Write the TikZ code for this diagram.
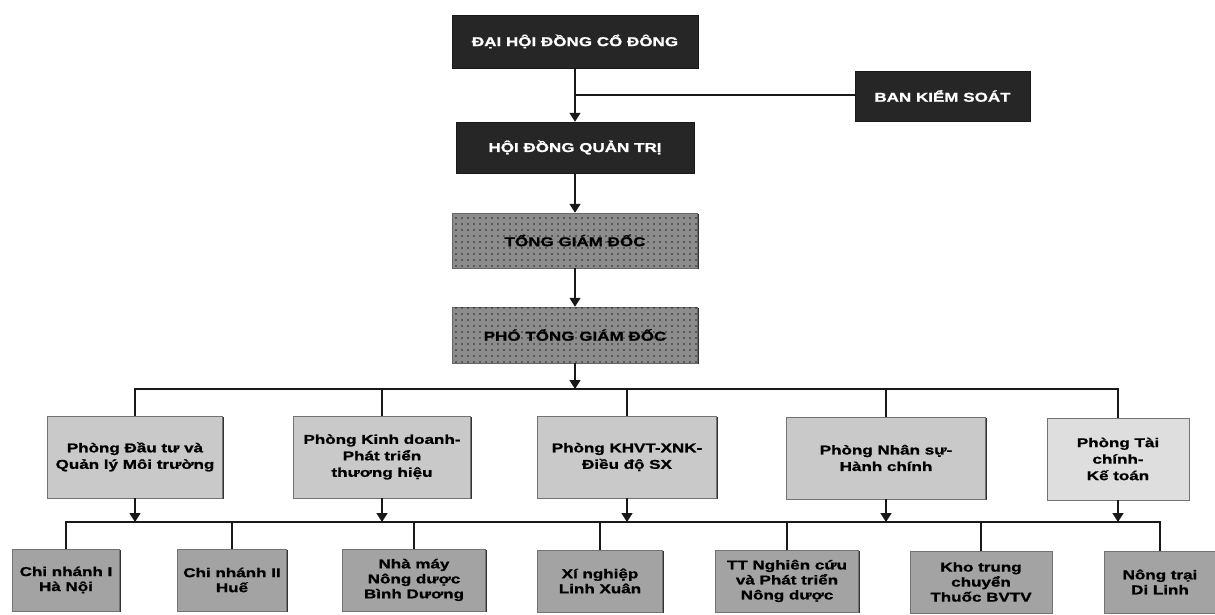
\documentclass[tikz,border=0pt]{standalone}
\usepackage{fontspec}
\setmainfont{Liberation Sans}
\newfontfamily\boxfont[FakeStretch=1.33, FakeBold=1.2]{Liberation Sans Bold}
\usetikzlibrary{arrows.meta,patterns.meta,shadows}
\tikzset{
  box/.style={rectangle, inner sep=2pt, align=center, draw=black!55, line width=0.5pt,
    font=\boxfont\fontsize{12.8}{16.5}\selectfont,
    drop shadow={shadow xshift=1.3pt, shadow yshift=-1.3pt, fill=black!80, opacity=1}},
  darkbox/.style={box, fill=black!85, text=white, draw=black!90},
  dotbox/.style={box, fill=black!45, draw=black!60,
    postaction={pattern={Dots[radius=0.8pt,distance=6pt]}, pattern color=black!85}},
  midbox/.style={box, fill=black!21, minimum height=82pt},
  lightbox/.style={box, fill=black!13, minimum height=82pt},
  lowbox/.style={box, fill=black!36, minimum height=62pt,
    font=\boxfont\fontsize{12.8}{15}\selectfont},
  conn/.style={line width=1.5pt, black!90},
  arr/.style={conn, -{Triangle[width=11pt,length=9pt]}}
}
\begin{document}
\begin{tikzpicture}[x=1pt,y=-1pt]
\useasboundingbox[fill=white] (0,0) rectangle (1215,614);
% top levels
\node[darkbox, minimum width=246pt, minimum height=53pt] (dh) at (575,41.5) {ĐẠI HỘI ĐỒNG CỔ ĐÔNG};
\node[darkbox, minimum width=175pt, minimum height=50pt] (bks) at (942.5,96) {BAN KIỂM SOÁT};
\node[darkbox, minimum width=238pt, minimum height=51pt] (hd) at (575,147.5) {HỘI ĐỒNG QUẢN TRỊ};
\node[dotbox, minimum width=245pt, minimum height=55pt] (tgd) at (575,240.5) {TỔNG GIÁM ĐỐC};
\node[dotbox, minimum width=245pt, minimum height=56pt] (ptgd) at (575,335) {PHÓ TỔNG GIÁM ĐỐC};
% departments
\node[midbox, minimum width=175pt] (pa) at (135,457) {Phòng Đầu tư và\\Quản lý Môi trường};
\node[midbox, minimum width=177pt] (pb) at (382,457) {Phòng Kinh doanh-\\Phát triển\\thương hiệu};
\node[midbox, minimum width=179pt] (pc) at (627,457) {Phòng KHVT-XNK-\\Điều độ SX};
\node[midbox, minimum width=199pt] (pd) at (886,458) {Phòng Nhân sự-\\Hành chính};
\node[lightbox, minimum width=142pt] (pe) at (1118,459) {Phòng Tài\\chính-\\Kế toán};
% units
\node[lowbox, minimum width=107pt] (u1) at (66,580) {Chi nhánh I\\Hà Nội};
\node[lowbox, minimum width=109pt] (u2) at (232,580) {Chi nhánh II\\Huế};
\node[lowbox, minimum width=143pt] (u3) at (414,580) {Nhà máy\\Nông dược\\Bình Dương};
\node[lowbox, minimum width=125pt] (u4) at (600,581) {Xí nghiệp\\Linh Xuân};
\node[lowbox, minimum width=143pt] (u5) at (787,581) {TT Nghiên cứu\\và Phát triển\\Nông dược};
\node[lowbox, minimum width=142pt] (u6) at (981,582) {Kho trung\\chuyển\\Thuốc BVTV};
\node[lowbox, minimum width=112pt] (u7) at (1160,582) {Nông trại\\Di Linh};
% connectors top
\coordinate (jb) at (575,95);
\coordinate (bus1) at (575,389);
\coordinate (bus2) at (575,522);
\draw[arr] (dh.south) -- (hd.north);
\draw[conn] (jb) -- (bks.west |- jb);
\draw[arr] (hd.south) -- (tgd.north);
\draw[arr] (tgd.south) -- (ptgd.north);
\draw[arr] (ptgd.south) -- (bus1);
% upper bus
\draw[conn] (pa.north) -- (pa.north |- bus1) -- (pe.north |- bus1) -- (pe.north);
\draw[conn] (pb.north) -- (pb.north |- bus1);
\draw[conn] (pc.north) -- (pc.north |- bus1);
\draw[conn] (pd.north) -- (pd.north |- bus1);
% arrows to lower bus
\draw[arr] (pa.south) -- (pa.south |- bus2);
\draw[arr] (pb.south) -- (pb.south |- bus2);
\draw[arr] (pc.south) -- (pc.south |- bus2);
\draw[arr] (pd.south) -- (pd.south |- bus2);
\draw[arr] (pe.south) -- (pe.south |- bus2);
% lower bus
\draw[conn] (u1.north) -- (u1.north |- bus2) -- (u7.north |- bus2) -- (u7.north);
\draw[conn] (u2.north) -- (u2.north |- bus2);
\draw[conn] (u3.north) -- (u3.north |- bus2);
\draw[conn] (u4.north) -- (u4.north |- bus2);
\draw[conn] (u5.north) -- (u5.north |- bus2);
\draw[conn] (u6.north) -- (u6.north |- bus2);
\end{tikzpicture}
\end{document}
